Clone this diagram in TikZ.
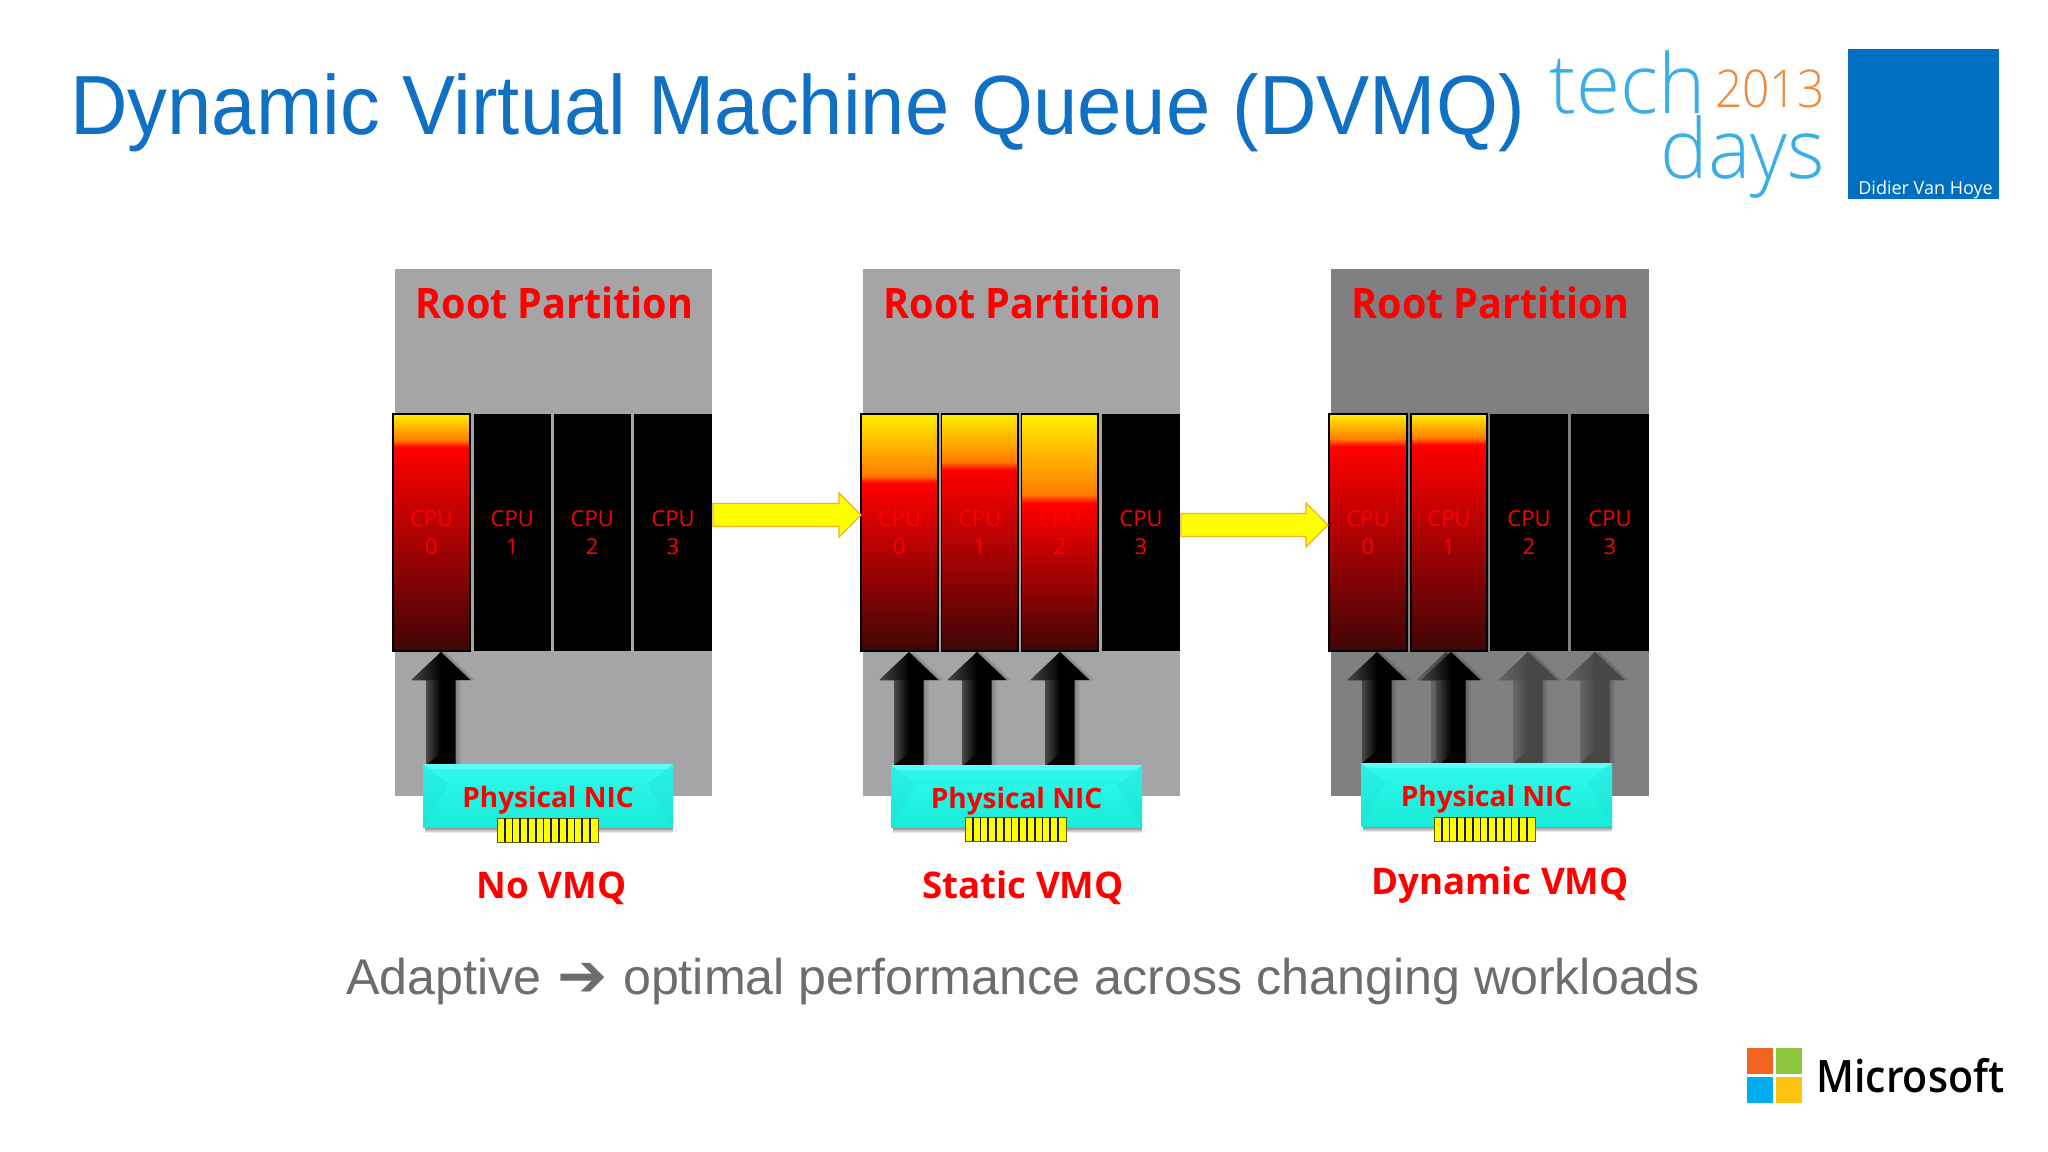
\documentclass[tikz,border=0pt]{standalone}
\usepackage{fontspec}
\usepackage{xcolor}
\usetikzlibrary{calc}
\setmainfont{Open Sans}
\newfontfamily\arifont[FakeStretch=0.948]{Liberation Sans}
\newfontfamily\bodyfont{Liberation Sans}
\newfontfamily\dvfont{DejaVu Sans}
\newfontfamily\lightfont[FakeStretch=0.97]{Open Sans Light}
\newfontfamily\yearfont[FakeStretch=0.92]{Open Sans Light}
\newfontfamily\semifont[FakeStretch=0.92]{Open Sans Semibold}
\newfontfamily\rootfont[FakeStretch=0.94]{Open Sans Bold}
\newfontfamily\boldfont{Open Sans Bold}
\newcommand\fs[1]{\fontsize{#1}{#1}\selectfont}
\definecolor{titleblue}{HTML}{0F70C4}
\definecolor{panelA}{HTML}{A5A4A7}
\definecolor{panelC}{HTML}{807F82}
\definecolor{hotdark}{HTML}{400505}
\definecolor{hotorange}{HTML}{FF7C00}
\definecolor{hotyellow}{HTML}{FFF000}
\definecolor{pureyellow}{RGB}{255,255,0}
\definecolor{logoblue}{HTML}{3BAEE6}
\definecolor{logoorange}{HTML}{EF8A3C}
\definecolor{squareblue}{HTML}{006FC1}
\definecolor{bodygray}{HTML}{6D6D70}
\definecolor{arrowedge}{HTML}{F2B021}
\definecolor{nictop}{HTML}{30F9EC}
\definecolor{nicbottom}{HTML}{18ECD8}
\definecolor{nicstrip}{HTML}{6CFFFC}
\definecolor{nicside}{HTML}{1FD0D0}
\definecolor{connedge}{HTML}{5A5A08}
\definecolor{msorange}{HTML}{F36523}
\definecolor{msgreen}{HTML}{8CC63E}
\definecolor{msblue}{HTML}{00ADEF}
\definecolor{msyellow}{HTML}{FFC20E}
\newcommand\hotshade[3]{\pgfdeclareverticalshading{#1}{100bp}{color(0bp)=(hotdark);color(25bp)=(hotdark);color(#2bp)=(red);color(#3bp)=(hotorange);color(75bp)=(hotyellow);color(100bp)=(hotyellow)}}
\hotshade{hotAa}{68}{69.5}
\hotshade{hotBa}{60.5}{62}
\hotshade{hotBb}{63.2}{65}
\hotshade{hotBc}{56.2}{58}
\hotshade{hotCa}{68.2}{69.7}
\hotshade{hotCb}{68.5}{70}
\def\upoff{0pt}
\tikzset{
  x=0.75pt,y=-0.75pt,
  panelbox/.style={inner sep=0,minimum width=317.5*0.75pt,minimum height=527*0.75pt},
  cpubase/.style={inner sep=0,minimum height=237*0.75pt,text=red,align=center,font=\fs{16.5},text depth=0pt},
  cpuidle/.style={cpubase,fill=black},
  cpuhot/.style={cpubase,draw=black,line width=1.1pt,shade,shading=#1},
  roottext/.style={anchor=base,inner sep=0,text=red,font=\rootfont\fs{31.5}},
  vmqtext/.style={anchor=base,inner sep=0,text=red,font=\boldfont\fs{27.5}},
  nictext/.style={anchor=base,inner sep=0,text=red,font=\boldfont\fs{21}},
  yarrow/.style={fill=pureyellow,draw=arrowedge,line width=0.9pt,line join=miter,
    to path={let \p1=(\tikztostart),\p2=(\tikztotarget) in
      (\x1,\y1+8.6pt)--(\x2-16.5pt,\y1+8.6pt)--(\x2-16.5pt,\y1+16.5pt)--(\x2,\y1)
      --(\x2-16.5pt,\y1-16.5pt)--(\x2-16.5pt,\y1-8.6pt)--(\x1,\y1-8.6pt)--cycle}},
  upshape/.style={
    to path={let \p1=(\tikztostart),\p2=(\tikztotarget) in
      (\x1+\upoff-10.9pt,\y1)--(\x1+\upoff-10.9pt,\y2-21pt)--(\x1+\upoff-22pt,\y2-21pt)
      --(\x1+\upoff,\y2)--(\x1+\upoff+22pt,\y2-21pt)--(\x1+\upoff+10.9pt,\y2-21pt)
      --(\x1+\upoff+10.9pt,\y1)--cycle}},
  logotext/.style={anchor=base west,inner sep=0},
}
% name, x, bottom y, body colour, light colour
\newcommand\uparr[5]{%
  \coordinate (#1s) at (#2,#3);
  \coordinate (#1t) at (#2,652);
  \foreach \d in {1,2,3,4}{\def\upoff{\d pt}\fill[black,opacity=0.05,upshape] (#1s) to (#1t);}
  \def\upoff{0pt}
  \fill[#4,upshape] (#1s) to (#1t);
  \shade[left color=#5,right color=#4] ({#2-14.5},680) rectangle (#2,#3);
  \shade[left color=#5,right color=#4] ({#2-29.5},680) -- (#2,652) -- (#2,680) -- cycle;
  \fill[#4] ({#2-14.5},#3) -- (#2,{#3-12}) -- (#2,#3) -- cycle;
}
% name, x1, x2, y1, y2, connector x1, connector y1
\newcommand\nic[7]{%
  \fill[top color=black!50,bottom color=white] ({#2+2},#5) rectangle (#3,{#5+6});
  \node[inner sep=0,minimum width={(#3-#2)*0.75pt},minimum height={(#5-#4)*0.75pt},
        top color=nictop,bottom color=nicbottom] (#1) at ({(#2+#3)/2},{(#4+#5)/2}) {};
  \fill[nicstrip,opacity=0.8] (#2,#4) -- (#3,#4) -- ({#3-6},{#4+5}) -- ({#2+6},{#4+5}) -- cycle;
  \fill[nicside,opacity=0.22] (#2,#4) -- ({#2+25},{#4+20}) -- (#2,#5) -- cycle;
  \fill[nicside,opacity=0.22] (#3,#4) -- ({#3-25},{#4+20}) -- (#3,#5) -- cycle;
  \node[nictext] (#1label) at ({(#2+#3)/2},{#4+43}) {Physical NIC};
  \node[inner sep=0,minimum width=101*0.75pt,minimum height=24*0.75pt,fill=pureyellow,draw=connedge,line width=0.7pt]
     (#1conn) at ({#6+50.5},{#7+12}) {};
  \foreach \k in {1,...,12}{\draw[black!90!pureyellow,line width=1.3pt] ({#6+\k*7.75},#7) -- ({#6+\k*7.75},{#7+24});}
}
\begin{document}
\begin{tikzpicture}
\useasboundingbox (0,0) rectangle (2048,1152);
\fill[white] (0,0) rectangle (2048,1152);
% title
\node[anchor=base west,inner sep=0,text=titleblue,font=\arifont\fs{63}] (title) at (70,135) {Dynamic Virtual Machine Queue (DVMQ)};
% logo
\node[logotext,text=logoblue,font=\lightfont\fs{62}] (tech) at (1549,114) {tech};
\node[logotext,text=logoorange,font=\yearfont\fs{39}] (year) at (1715,108) {2013};
\node[logotext,text=logoblue,font=\lightfont\fs{62}] (days) at (1660,179) {days};
\fill[squareblue] (1848,49) rectangle (1999,199);
\node[anchor=base east,inner sep=0,text=white,font=\fs{13.5}] (author) at (1993,195) {Didier Van Hoye};
% panels
\node[panelbox,fill=panelA] (panA) at (553.5,532.5) {};
\node[panelbox,fill=panelA] (panB) at (1021.5,532.5) {};
\node[panelbox,fill=panelC] (panC) at (1490,532.5) {};
\node[roottext] (rootA) at (554.5,318) {Root Partition};
\node[roottext] (rootB) at (1022.5,318) {Root Partition};
\node[roottext] (rootC) at (1490.5,318) {Root Partition};
% CPUs panel A
\node[cpuhot=hotAa,minimum width=77*0.75pt] (a0) at (431.5,532.5) {CPU\\[4pt]0};
\node[cpuidle,minimum width=77.5*0.75pt] (a1) at (512.25,532.5) {CPU\\[4pt]1};
\node[cpuidle,minimum width=77.5*0.75pt] (a2) at (592.25,532.5) {CPU\\[4pt]2};
\node[cpuidle,minimum width=78*0.75pt] (a3) at (673,532.5) {CPU\\[4pt]3};
% CPUs panel B
\node[cpuhot=hotBa,minimum width=77*0.75pt] (b0) at (899.5,532.5) {CPU\\[4pt]0};
\node[cpuhot=hotBb,minimum width=76.5*0.75pt] (b1) at (979.75,532.5) {CPU\\[4pt]1};
\node[cpuhot=hotBc,minimum width=76.5*0.75pt] (b2) at (1059.75,532.5) {CPU\\[4pt]2};
\node[cpuidle,minimum width=78*0.75pt] (b3) at (1141,532.5) {CPU\\[4pt]3};
% CPUs panel C
\node[cpuhot=hotCa,minimum width=78*0.75pt] (c0) at (1368,532.5) {CPU\\[4pt]0};
\node[cpuhot=hotCb,minimum width=76*0.75pt] (c1) at (1449,532.5) {CPU\\[4pt]1};
\node[cpuidle,minimum width=78*0.75pt] (c2) at (1529,532.5) {CPU\\[4pt]2};
\node[cpuidle,minimum width=78*0.75pt] (c3) at (1610,532.5) {CPU\\[4pt]3};
% yellow arrows
\coordinate (ya) at (713,515);
\coordinate (yb) at (861,515);
\coordinate (yc) at (1181,525);
\coordinate (yd) at (1328,525);
\draw[yarrow] (ya) to (yb);
\draw[yarrow] (yc) to (yd);
% upward arrows
\uparr{ua}{441}{765}{black}{black!72}
\uparr{ub}{909}{765}{black}{black!72}
\uparr{uc}{977}{766}{black}{black!72}
\uparr{ud}{1060}{766}{black}{black!72}
\uparr{ue}{1377}{763}{black}{black!72}
\uparr{ug}{1446}{763}{black!75}{black!60}
\uparr{uf}{1451}{767}{black}{black!72}
\uparr{uh}{1528}{763}{black!72}{black!60}
\uparr{ui}{1595}{763}{black!72}{black!60}
% NICs
\nic{nicA}{423}{673}{764}{827}{497}{818}
\nic{nicB}{891}{1142}{765}{827}{965}{817}
\nic{nicC}{1361}{1612}{763}{826}{1434}{817}
% captions
\node[vmqtext] (vmqA) at (551.5,898) {No VMQ};
\node[vmqtext] (vmqB) at (1023,898) {Static VMQ};
\node[vmqtext] (vmqC) at (1500,894) {Dynamic VMQ};
\node[anchor=base west,inner sep=0,text=bodygray,font=\bodyfont\fs{37.65}] (adapt) at (346,994) {Adaptive\hspace{1.5pt} {\dvfont\fs{45}\raisebox{-2pt}{➔}} \hspace{1pt}optimal performance across changing workloads};
% Microsoft logo
\fill[msorange] (1747,1048) rectangle (1773,1074);
\fill[msgreen] (1776,1048) rectangle (1802,1074);
\fill[msblue] (1747,1077) rectangle (1773,1103);
\fill[msyellow] (1776,1077) rectangle (1802,1103);
\node[logotext,text=black,font=\semifont\fs{33.5}] (ms) at (1816,1092) {Microsoft};
\end{tikzpicture}
\end{document}
